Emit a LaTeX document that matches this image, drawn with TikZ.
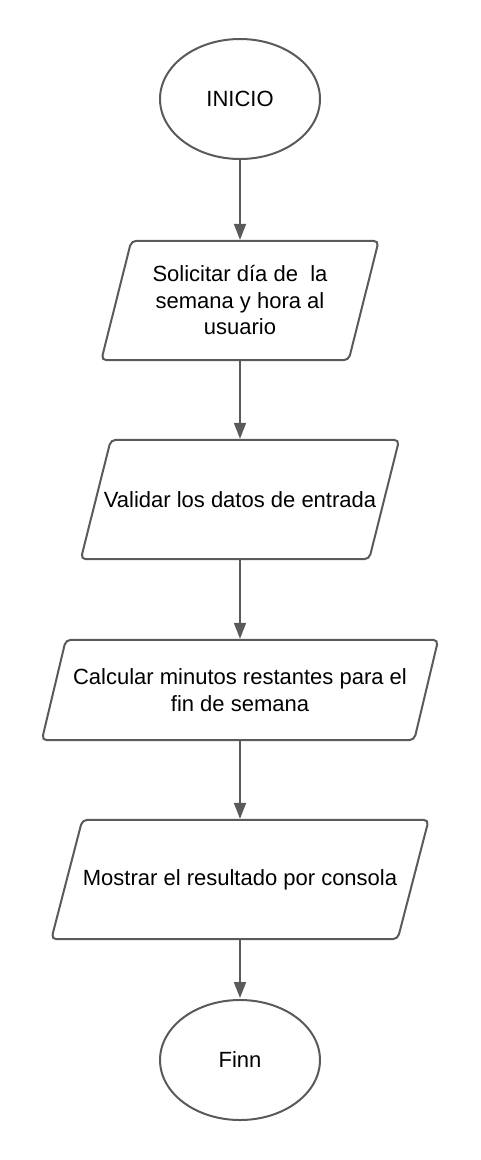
\documentclass[tikz,border=0pt]{standalone}
\usepackage{fontspec}
\setmainfont{Liberation Sans}
\usetikzlibrary{shapes.geometric,arrows.meta,calc}
\definecolor{linegray}{HTML}{5A5A5A}
\tikzset{
  startstop/.style={ellipse, draw=linegray, line width=2pt, minimum width=160pt, minimum height=120pt, inner sep=0pt, font=\fontsize{22}{26.5}\selectfont},
  iobox/.style={rectangle, inner sep=0pt, align=center, font=\fontsize{22}{26.5}\selectfont},
  ioline/.style={draw=linegray, line width=2pt, rounded corners=5pt},
  flow/.style={line width=2pt, draw=linegray, shorten >=1pt, -{Triangle[width=12pt,length=16pt]}}
}
\begin{document}
\begin{tikzpicture}[x=1pt,y=-1pt]
  \useasboundingbox (0,0) rectangle (480,1160);
  % nodes
  \node [startstop] (start) at (240,99) {INICIO};
  \node [iobox, minimum width=247pt, minimum height=119pt] (ask) at (240,300.5) {Solicitar día de \ la\\semana y hora al\\usuario};
  \node [iobox, minimum width=288pt, minimum height=119pt] (check) at (240,499.5) {Validar los datos de entrada};
  \node [iobox, minimum width=372pt, minimum height=100pt] (calc) at (240,690) {Calcular minutos restantes para el\\fin de semana};
  \node [iobox, minimum width=346pt, minimum height=119pt] (show) at (240,879.5) {Mostrar el resultado por consola};
  \node [startstop] (stop) at (240,1060) {Finn};
  % slanted outlines of the input/output boxes
  \foreach \n/\s in {ask/15, check/15, calc/12, show/15.5}
    \draw [ioline] ($(\n.south west)+(-\s,0)$) -- ($(\n.north west)+(\s,0)$)
      -- ($(\n.north east)+(\s,0)$) -- ($(\n.south east)+(-\s,0)$) -- cycle;
  % arrows
  \draw [flow] (start) -- (ask);
  \draw [flow] (ask) -- (check);
  \draw [flow] (check) -- (calc);
  \draw [flow] (calc) -- (show);
  \draw [flow] (show) -- (stop);
\end{tikzpicture}
\end{document}
